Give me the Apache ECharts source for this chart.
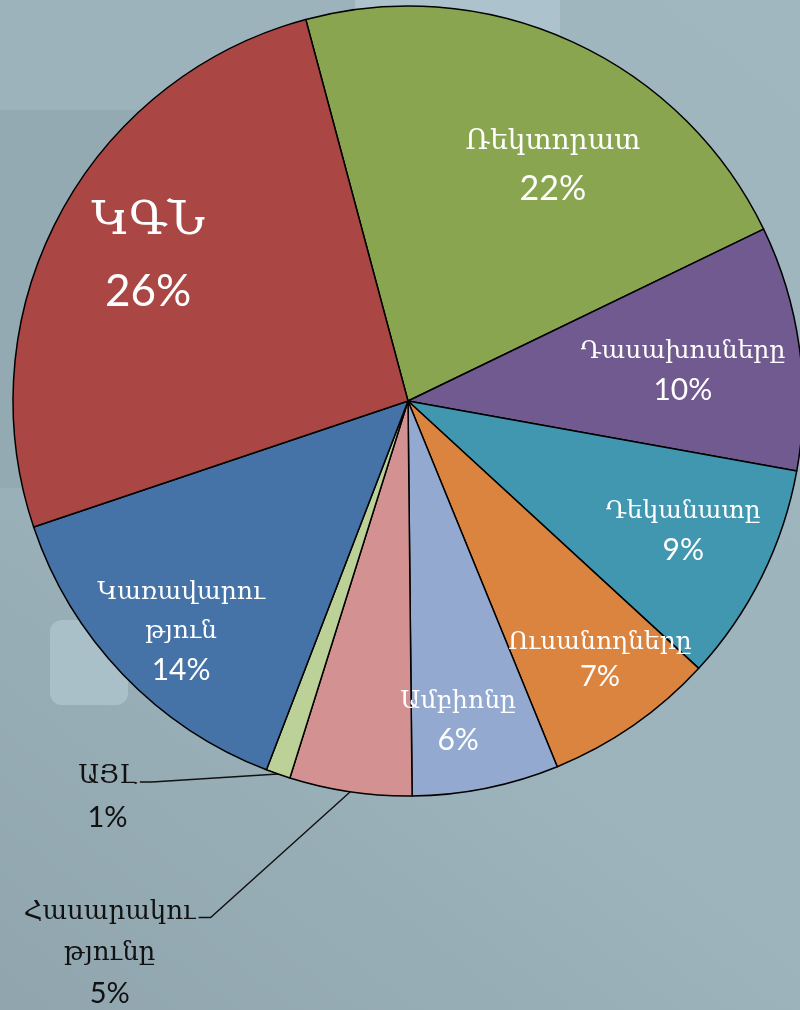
<!DOCTYPE html>
<html>
<head>
<meta charset="utf-8">
<script src="https://cdn.jsdelivr.net/npm/echarts@6/dist/echarts.min.js"></script>
<style>
  html, body { margin: 0; padding: 0; width: 800px; height: 1010px; overflow: hidden; }
  #chart { width: 800px; height: 1010px; }
</style>
</head>
<body>
<div id="chart"></div>
<script>
// Shares of each party, in percent, clockwise from the top.
const categories = ['Ռեկտորատ', 'Դասախոսները', 'Դեկանատը', 'Ուսանողները', 'Ամբիոնը', 'Հասարակությունը', 'ԱՅԼ', 'Կառավարություն', 'ԿԳՆ'];
const shares = [22, 10, 9, 7, 6, 5, 1, 14, 26];
const sliceColors = ['#8aa54f', '#715a8f', '#4197b0', '#db843f', '#93a9d0', '#d39291', '#bcd198', '#4572a7', '#aa4745'];

// Pie geometry (px) and start angle (ECharts degrees, counter-clockwise from 3 o'clock).
const CX = 408, CY = 401, R = 395;
const START_ANGLE = 105;

// Where long names wrap in their labels.
const lineBreaks = {
  'Կառավարություն': 'Կառավարու\nթյուն',
  'Հասարակությունը': 'Հասարակու\nթյունը'
};

// Label placement: [fraction of radius, angular nudge in degrees (clockwise), style set]
const placement = {
  'Ռեկտորատ': [0.70, 7, 'mid'],
  'Դասախոսները': [0.70, 1.6, 'small'],
  'Դեկանատը': [0.77, -1.2, 'small'],
  'Ուսանողները': [0.815, -1.8, 'tight'],
  'Ամբիոնը': [0.82, 2.5, 'small'],
  'Հասարակությունը': [1.588, 20, 'out'],
  'ԱՅԼ': [1.258, 18, 'out'],
  'Կառավարություն': [0.818, -1.6, 'small'],
  'ԿԳՆ': [0.752, 0.8, 'big']
};

const ARM = '"DejaVu Serif", "Noto Sans", serif';
const NUM = 'Lato, "Open Sans", sans-serif';
function richSet(nameSize, pctSize, lh, color) {
  return {
    n: { fontFamily: ARM, fontSize: nameSize, lineHeight: lh, color: color },
    p: { fontFamily: NUM, fontSize: pctSize, lineHeight: lh, color: color }
  };
}
const labelStyles = {
  big: richSet(47, 44, 70, '#ffffff'),
  mid: richSet(28, 34, 47, '#ffffff'),
  small: richSet(25, 30, 39, '#ffffff'),
  tight: richSet(25, 29, 34, '#ffffff'),
  out: richSet(26, 29, 41, '#111111')
};

const total = shares.reduce((a, b) => a + b, 0);
// Mid angle of a slice, degrees clockwise from 12 o'clock.
function midAngle(i) {
  let before = 0;
  for (let k = 0; k < i; k++) before += shares[k];
  return (90 - START_ANGLE) + 360 * (before + shares[i] / 2) / total;
}

const seriesData = categories.map((name, i) => {
  const pl = placement[name];
  const outside = pl[2] === 'out';
  return {
    name: name,
    value: shares[i],
    itemStyle: { color: sliceColors[i] },
    label: { position: outside ? 'outside' : 'inside', rich: labelStyles[pl[2]] },
    labelLine: { show: outside, lineStyle: { color: '#111111', width: 1.4 } }
  };
});

const chart = echarts.init(document.getElementById('chart'), null, { renderer: 'canvas' });

chart.setOption({
  animation: false,
  backgroundColor: new echarts.graphic.LinearGradient(1, 0, 0, 1, [
    { offset: 0, color: '#a0b7c0' },
    { offset: 0.6, color: '#9cb3bc' },
    { offset: 1, color: '#90a5ae' }
  ]),
  graphic: [
    { type: 'rect', z: 0, shape: { x: 0, y: 0, width: 355, height: 110 }, style: { fill: '#9db3bc' } },
    { type: 'rect', z: 0, shape: { x: 355, y: 0, width: 205, height: 120 }, style: { fill: '#acc3cd' } },
    { type: 'rect', z: 0, shape: { x: 0, y: 110, width: 400, height: 378 }, style: { fill: '#93aab3' } },
    { type: 'rect', z: 0, shape: { x: 50, y: 620, width: 78, height: 85, r: 12 }, style: { fill: '#a9c0c8' } }
  ],
  series: [{
    type: 'pie',
    z: 5,
    center: [CX, CY],
    radius: R,
    startAngle: START_ANGLE,
    clockwise: true,
    avoidLabelOverlap: false,
    itemStyle: { borderColor: '#000000', borderWidth: 1.5 },
    label: {
      show: true,
      formatter: function (p) {
        const txt = lineBreaks[p.name] || p.name;
        return '{n|' + txt + '}\n{p|' + p.value + '%}';
      }
    },
    labelLine: { show: false },
    emphasis: { disabled: true },
    labelLayout: function (p) {
      const name = categories[p.dataIndex];
      const pl = placement[name];
      const mid = midAngle(p.dataIndex);
      const a = (mid + pl[1]) * Math.PI / 180;
      const x = CX + pl[0] * R * Math.sin(a);
      const y = CY - pl[0] * R * Math.cos(a);
      const res = { x: x, y: y, align: 'center', verticalAlign: 'middle' };
      if (pl[2] === 'out') {
        const w = p.labelRect.width, h = p.labelRect.height;
        const lh = labelStyles.out.n.lineHeight;
        const lineY = y - h / 2 + lh / 2 - 1;
        const m = mid * Math.PI / 180;
        const ax = CX + R * Math.sin(m), ay = CY - R * Math.cos(m);
        res.labelLinePoints = [[ax, ay], [x + w / 2 + 15, lineY], [x + w / 2 + 3, lineY]];
      }
      return res;
    },
    data: seriesData
  }]
});
</script>
</body>
</html>
